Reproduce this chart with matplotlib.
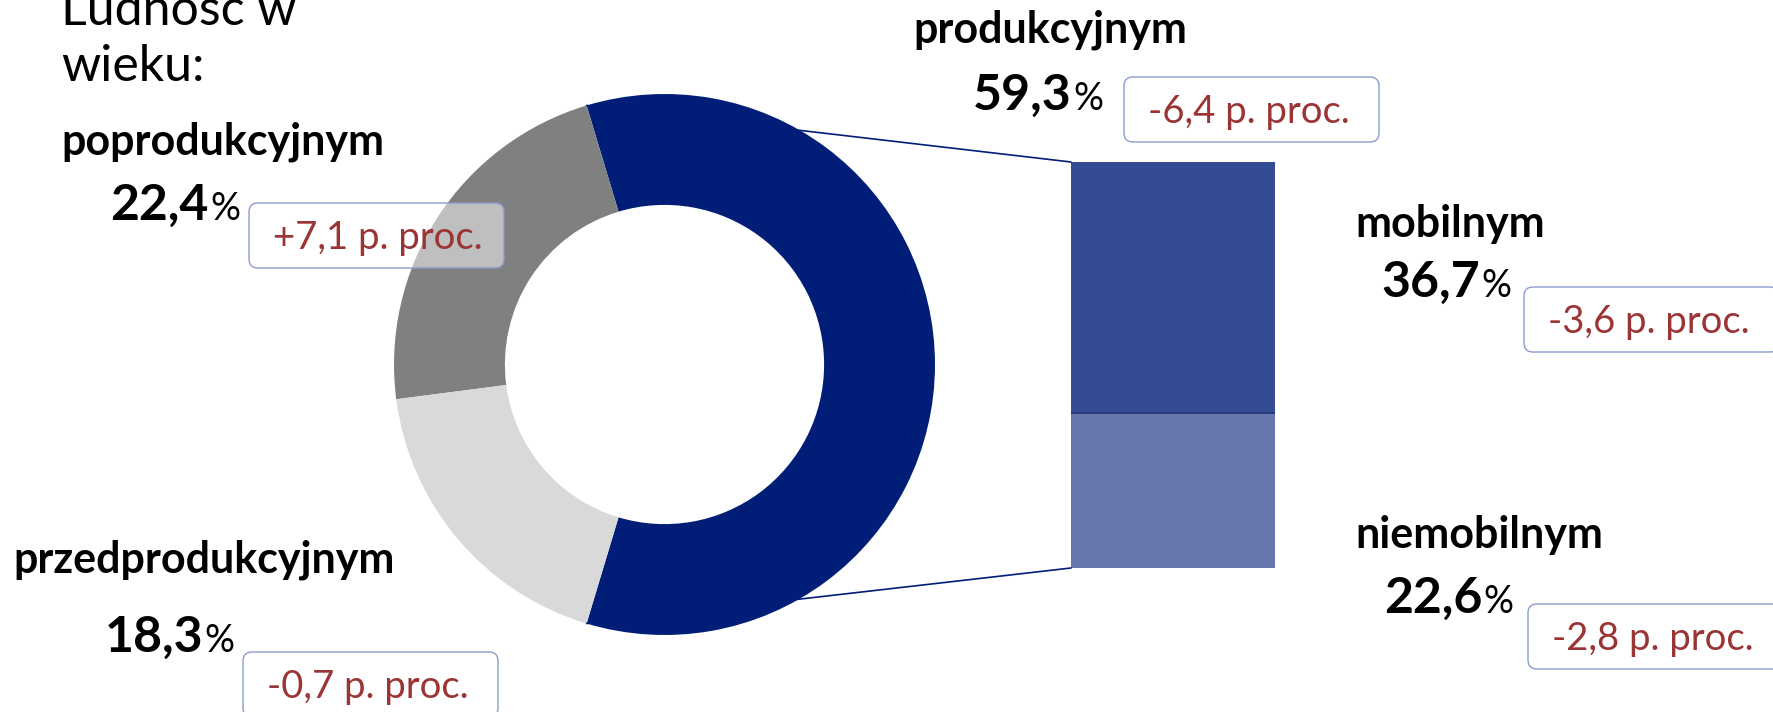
import matplotlib
matplotlib.use("Agg")
import numpy as np
import matplotlib.pyplot as plt
from matplotlib.patches import ConnectionPatch, FancyBboxPatch
from matplotlib.transforms import IdentityTransform

plt.rcParams["font.family"] = ["Lato", "DejaVu Sans"]

# --- data -------------------------------------------------------------------
age_groups = ["produkcyjnym", "poprodukcyjnym", "przedprodukcyjnym"]
age_shares = [59.3, 22.4, 18.3]
age_changes = ["-6,4 p. proc.", "+7,1 p. proc.", "-0,7 p. proc."]

work_groups = ["mobilnym", "niemobilnym"]
work_shares = [36.7, 22.6]
work_changes = ["-3,6 p. proc.", "-2,8 p. proc."]

title = "Ludność w\nwieku:"

# --- style ------------------------------------------------------------------
W, H = 1773, 712
NAVY = "#001e78"
pie_colors = [NAVY, "#808080", "#d9d9d9"]
bar_colors = ["#334c93", "#6777ad"]
RED = "#9b3535"
BOX_EDGE = "#8c9bd1"


def fmt(v):
    return f"{v:.1f}".replace(".", ",")


fig = plt.figure(figsize=(W / 100, H / 100), dpi=100)

# donut
cx, cy, R = 664.5, 364.5, 270.5
ax_pie = fig.add_axes([(cx - R) / W, (H - cy - R) / H, 2 * R / W, 2 * R / H])
start = -age_shares[0] / sum(age_shares) * 180
wedges, _ = ax_pie.pie(
    age_shares,
    colors=pie_colors,
    startangle=start,
    counterclock=True,
    radius=1,
    wedgeprops=dict(width=0.41, edgecolor="none", linewidth=0),
)
ax_pie.set_xlim(-1, 1)
ax_pie.set_ylim(-1, 1)
ax_pie.axis("off")

# stacked bar for the working-age split
bx0, bx1, by0, by1 = 1071, 1275, 162, 568
ax_bar = fig.add_axes([bx0 / W, (H - by1) / H, (bx1 - bx0) / W, (by1 - by0) / H])
ax_bar.bar(0, work_shares[1], width=1, color=bar_colors[1], linewidth=0)
ax_bar.bar(0, work_shares[0], width=1, bottom=work_shares[1], color=bar_colors[0], linewidth=0)
ax_bar.hlines(work_shares[1], -0.5, 0.5, color="#1f3275", lw=1.2)
total = sum(work_shares)
ax_bar.set_xlim(-0.5, 0.5)
ax_bar.set_ylim(0, total)
ax_bar.axis("off")

# connecting lines
w0 = wedges[0]
for ang, yb in [(w0.theta2, total), (w0.theta1, 0)]:
    xa = w0.r * np.cos(np.radians(ang))
    ya = w0.r * np.sin(np.radians(ang))
    con = ConnectionPatch(
        xyA=(-0.5, yb), coordsA=ax_bar.transData,
        xyB=(xa, ya), coordsB=ax_pie.transData,
        color=NAVY, linewidth=1.2,
    )
    fig.add_artist(con)


def P(x, y):
    return x / W, 1 - y / H


# title (top line runs off the canvas like in the source)
fig.text(*P(61, 25), title.split("\n")[0], fontsize=36, va="baseline")
fig.text(*P(61, 81), title.split("\n")[1], fontsize=36, va="baseline")

# label positions: (name x, name baseline), (% x, % baseline), (box x, box top)
layout = {
    "produkcyjnym": ((913, 43), (1072, 110), (1124, 77)),
    "poprodukcyjnym": ((61, 155), (209, 220), (249, 203)),
    "przedprodukcyjnym": ((13, 573), (203, 652), (243, 652)),
    "mobilnym": ((1355, 237), (1480, 297), (1524, 287)),
    "niemobilnym": ((1355, 548), (1482, 613), (1528, 604)),
}

names = age_groups + work_groups
values = age_shares + work_shares
changes = age_changes + work_changes

for name, val, chg in zip(names, values, changes):
    (nx, ny), (px, py), (kx, ky) = layout[name]
    fig.text(*P(nx, ny), name, fontsize=31, fontweight="bold", va="baseline")
    fig.text(*P(px, py), fmt(val), fontsize=36, fontweight="bold", va="baseline", ha="right")
    fig.text(*P(px + 1, py), "%", fontsize=27, va="baseline", ha="left")
    box = FancyBboxPatch(
        (kx, H - ky - 65), 255, 65,
        boxstyle="round,pad=0,rounding_size=9",
        facecolor=(1, 1, 1, 0.5), edgecolor=BOX_EDGE, linewidth=1.0,
        transform=IdentityTransform(), zorder=2,
    )
    fig.add_artist(box)
    fig.text(*P(kx + 24, ky + 46), chg, fontsize=27.5, color=RED, va="baseline", zorder=3)

fig.savefig("out.png", dpi=100)
